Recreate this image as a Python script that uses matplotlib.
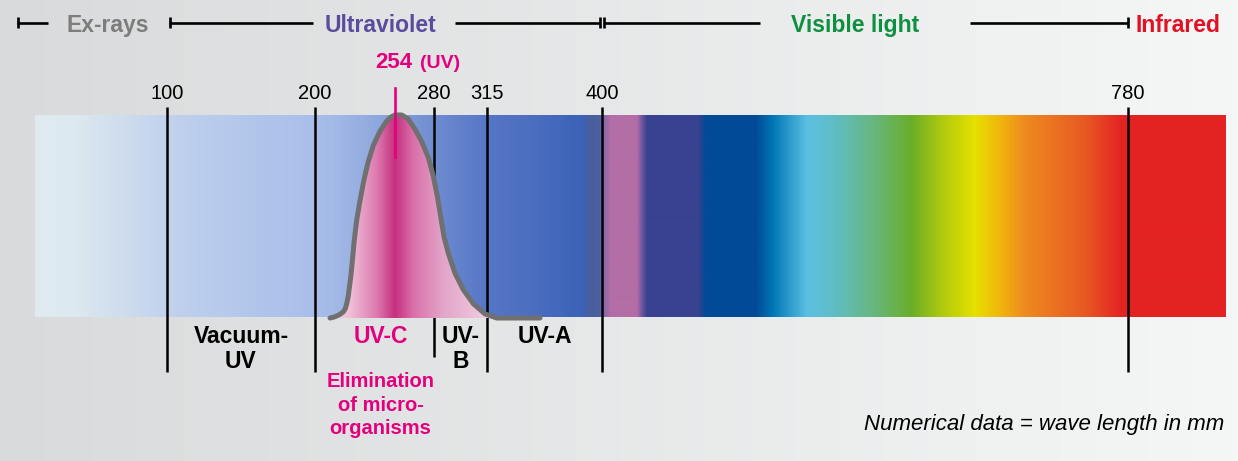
import numpy as np
import matplotlib.pyplot as plt
from matplotlib.colors import to_rgb
from matplotlib.patches import Polygon

plt.rcParams['font.family'] = ['Liberation Sans', 'DejaVu Sans']

# wavelength marks (nm)
tick_nm = [100, 200, 280, 315, 400, 780]
tick_labels = ['100', '200', '280', '315', '400', '780']
peak_nm = 254

# UV-C lamp curve (relative intensity)
uv_nm = [210.1, 212.5, 214.6, 216.8, 219.0, 220.3, 221.3, 222.3, 223.1, 224.0, 224.7, 225.5, 226.2,
         227.1, 228.0, 230.3, 232.9, 235.8, 239.2, 243.7, 248.2, 251.0, 253.8, 258.3, 262.7, 267.2,
         271.7, 276.2, 279.5, 282.2, 284.4, 286.6, 289.4, 293.9, 299.3, 306.0, 313.7, 322.2, 334.4, 354.2]
uv_rel = [0, 0.004, 0.01, 0.018, 0.03, 0.045, 0.07, 0.105, 0.15, 0.2, 0.25, 0.31, 0.37,
          0.425, 0.48, 0.58, 0.68, 0.77, 0.85, 0.92, 0.97, 0.99, 1.0, 1.0, 0.98, 0.93,
          0.87, 0.79, 0.70, 0.60, 0.50, 0.40, 0.32, 0.22, 0.14, 0.07, 0.02, 0.0, 0, 0]

# band names below the spectrum and where they sit (nm)
band_names = ['Vacuum-\nUV', 'UV-C', 'UV-\nB', 'UV-A']
band_nm = [150, 244, 297.5, 357.5]
band_colors = ['black', '#e4007d', 'black', 'black']
uvc_note = 'Elimination\nof micro-\norganisms'

# headers
header_names = ['Ex-rays', 'Ultraviolet', 'Visible light', 'Infrared']
header_colors = ['#7d7d7d', '#5a4b9c', '#0f9040', '#e30f22']

W, H = 1238, 461
# piecewise scale: wavelength -> horizontal pixel
scale_px = [167, 315, 434, 487, 602, 1128]


def wx(nm):
    return np.interp(nm, tick_nm, scale_px)


band_top, band_bot = 115, 318


def wy(rel):
    return band_bot - np.asarray(rel) * (band_bot - band_top)


def lines_text(x, y0, txt, step, **kw):
    # one text per line so the first baseline sits where wanted
    for i, line in enumerate(txt.split('\n')):
        ax.text(x, y0 + i * step, line, ha='center', va='baseline', **kw)


fig = plt.figure(figsize=(W / 100, H / 100), dpi=100)
ax = fig.add_axes([0, 0, 1, 1])
ax.set_xlim(0, W)
ax.set_ylim(H, 0)
ax.axis('off')

# background
bg_l, bg_r = np.array(to_rgb('#d9dadb')), np.array(to_rgb('#f5f6f6'))
t = np.linspace(0, 1, 300)[:, None]
bg = (bg_l * (1 - t) + bg_r * t)[None, :, :]
ax.imshow(bg, extent=(0, W, H, 0), aspect='auto', zorder=0)

# spectrum band
stops = [(35, '#dfebf0'), (77, '#dde9f0'), (100, '#d5e2ef'), (133, '#ccdaee'), (167, '#c1d2ed'),
         (233, '#b5c9ec'), (300, '#acc0ea'), (333, '#a4bae7'), (380, '#8da6de'), (434, '#6f8dd1'),
         (487, '#5676c6'), (533, '#4c6ec0'), (583, '#3a62b8'), (588, '#47609f'), (599, '#4a5f9f'),
         (604, '#8a68a8'), (611, '#b36ea6'), (637, '#b36ea6'), (641, '#7c5aa0'), (647, '#384290'),
         (698, '#384290'), (706, '#004a97'), (756, '#004a97'), (773, '#0077b6'), (807, '#5bc0e2'),
         (832, '#5fbec8'), (874, '#68b67f'), (912, '#6aae27'), (945, '#b6cc0c'), (975, '#e6e000'),
         (1000, '#f1b60c'), (1025, '#ee8a1f'), (1084, '#e85a23'), (1122, '#e32322'), (1226, '#e32322')]
sx = np.array([s[0] for s in stops])
sc = np.array([to_rgb(s[1]) for s in stops])
xs = np.arange(35, 1226) + 0.5
spec = np.stack([np.interp(xs, sx, sc[:, i]) for i in range(3)], axis=-1)[None, :, :]
ax.imshow(spec, extent=(35, 1226, band_bot - 1, band_top), aspect='auto', zorder=1,
          interpolation='bilinear')

# wavelength ticks
for nm, lab in zip(tick_nm, tick_labels):
    bottom = 357 if nm == 280 else 372
    ax.plot([wx(nm), wx(nm)], [107, bottom], color='black', lw=1.8, zorder=2, solid_capstyle='butt')
    ax.text(wx(nm), 99, lab, ha='center', va='baseline', fontsize=14.5, color='black')

# UV-C curve with pink fill
cx = wx(uv_nm)
cy = wy(uv_rel)
pink = [(330, '#f5d5e5'), (350, '#f0bfd7'), (377, '#dc7ab0'), (395, '#c62f7f'), (413, '#d970aa'),
        (443, '#e2a5c8'), (480, '#efc6dc'), (500, '#f5d8e6'), (545, '#f7dde9')]
px_ = np.array([p[0] for p in pink])
pc = np.array([to_rgb(p[1]) for p in pink])
fx = np.arange(325, 545) + 0.5
fill = np.stack([np.interp(fx, px_, pc[:, i]) for i in range(3)], axis=-1)[None, :, :]
im = ax.imshow(fill, extent=(325, 545, band_bot, band_top - 5), aspect='auto', zorder=3,
               interpolation='bilinear')
poly = Polygon(np.column_stack([cx, cy]), closed=True, transform=ax.transData,
               facecolor='none', edgecolor='none')
ax.add_patch(poly)
im.set_clip_path(poly)
ax.plot(cx, cy, color='#707070', lw=3.6, zorder=4, solid_capstyle='round', solid_joinstyle='round')

# peak marker
ax.plot([wx(peak_nm), wx(peak_nm)], [88, 157], color='#e4007d', lw=1.9, zorder=5)
ax.text(wx(peak_nm) - 20.5, 68, '254', ha='left', va='baseline', fontsize=16, fontweight='bold',
        color='#e4007d')
ax.text(wx(peak_nm) + 25, 68, '(UV)', ha='left', va='baseline', fontsize=14, fontweight='bold',
        color='#e4007d')

# band names
for name, nm, col in zip(band_names, band_nm, band_colors):
    lines_text(wx(nm), 343, name, 25, fontsize=16.5, fontweight='bold', color=col)
lines_text(wx(244), 387, uvc_note, 23.5, fontsize=14.5, fontweight='bold', color='#e4007d')

# header row
hy = 22.7
segs = [(17, 48), (169, 313), (455, 600), (604, 760), (970, 1128)]
for a, b in segs:
    ax.plot([a, b], [hy, hy], color='black', lw=1.9, zorder=5, solid_capstyle='butt')
for cap in [17.5, 169.5, 600, 604, 1127.5]:
    ax.plot([cap, cap], [17, 28.5], color='black', lw=1.9, zorder=5, solid_capstyle='butt')
header_x = [107.5, 381, 855, 1178]
for name, x, col in zip(header_names, header_x, header_colors):
    ax.text(x, 32, name, ha='center', va='baseline', fontsize=16.5, fontweight='bold', color=col)

ax.text(1224, 430, 'Numerical data = wave length in mm', ha='right', va='baseline',
        fontsize=16, fontstyle='italic', color='black')

fig.savefig('out.png', dpi=100)
